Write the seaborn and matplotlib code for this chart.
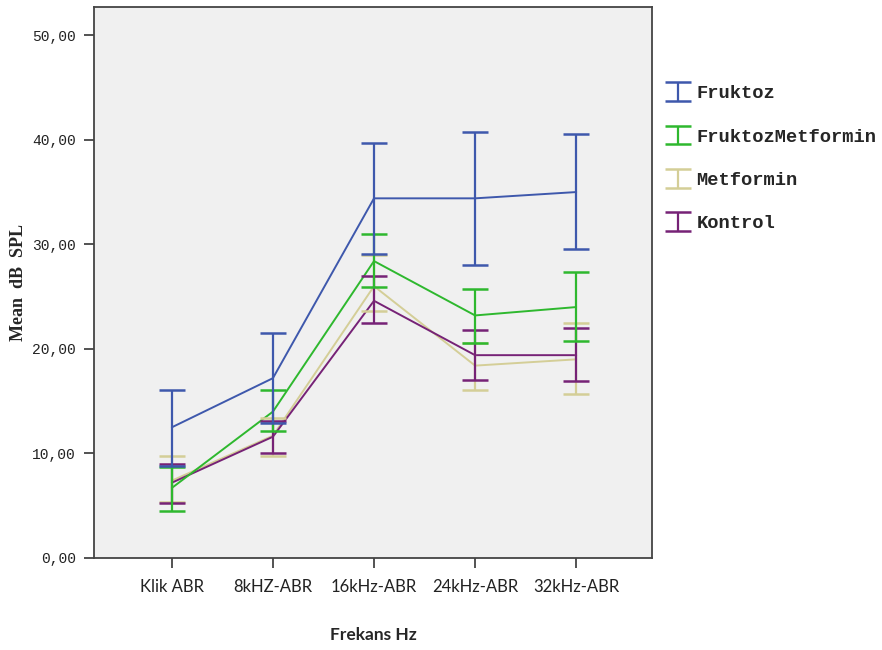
import numpy as np
import pandas as pd
import matplotlib
matplotlib.use('Agg')
import matplotlib.pyplot as plt
import seaborn as sns

frekans = ['Klik ABR', '8kHZ-ABR', '16kHz-ABR', '24kHz-ABR', '32kHz-ABR']
gruplar = ['Fruktoz', 'FruktozMetformin', 'Metformin', 'Kontrol']

# ortalama, ust ve alt hata cubugu sinirlari
fruktoz_mean = [12.5, 17.2, 34.4, 34.4, 35.0]
fruktoz_ust = [16.1, 21.5, 39.7, 40.7, 40.6]
fruktoz_alt = [8.8, 12.9, 29.1, 28.0, 29.6]

fm_mean = [6.7, 14.0, 28.4, 23.2, 24.0]
fm_ust = [8.7, 16.1, 31.0, 25.7, 27.4]
fm_alt = [4.5, 12.1, 25.9, 20.6, 20.8]

met_mean = [7.4, 11.7, 26.0, 18.4, 19.0]
met_ust = [9.8, 13.4, 29.0, 20.6, 22.5]
met_alt = [5.4, 9.8, 23.6, 16.1, 15.7]

kon_mean = [7.2, 11.6, 24.6, 19.4, 19.4]
kon_ust = [9.0, 13.1, 27.0, 21.8, 22.0]
kon_alt = [5.3, 10.0, 22.5, 17.0, 16.9]

renkler = ['#3E58AC', '#2EB82E', '#D4CE97', '#762276']

means = [fruktoz_mean, fm_mean, met_mean, kon_mean]
usts = [fruktoz_ust, fm_ust, met_ust, kon_ust]
alts = [fruktoz_alt, fm_alt, met_alt, kon_alt]

rows = []
for g, m in zip(gruplar, means):
    for f, v in zip(frekans, m):
        rows.append({'Frekans': f, 'Grup': g, 'dB': v})
df = pd.DataFrame(rows)

sns.set_style('white')

fig = plt.figure(figsize=(8.82, 6.5), dpi=100)
ax = fig.add_axes([94/882, 1-558/650, (652-94)/882, (558-7)/650])
ax.set_facecolor('#F0F0F0')

# cizim sirasi: kontrol en altta
for i in [2, 3, 1, 0]:
    g = gruplar[i]
    sub = df[df.Grup == g]
    sns.lineplot(data=sub, x='Frekans', y='dB', color=renkler[i], lw=1.4,
                 legend=False, ax=ax, sort=False)

handles = {}
for i in [2, 3, 1, 0]:
    m = np.array(means[i]); u = np.array(usts[i]); a = np.array(alts[i])
    eb = ax.errorbar(frekans, m, yerr=[m - a, u - m], fmt='none',
                     ecolor=renkler[i], elinewidth=1.6, capsize=9.5,
                     capthick=1.8, label=gruplar[i])
    handles[i] = eb

leg = ax.legend([handles[i] for i in range(4)], gruplar,
                loc='upper left', bbox_to_anchor=(1.009, 0.882), frameon=False,
                prop={'family': 'Liberation Mono', 'weight': 'bold', 'size': 13.5},
                handlelength=0.8, handletextpad=0.6, labelspacing=1.4,
                borderaxespad=0.3)

ax.set_xlim(-0.77, 4.75)
ax.set_ylim(0, 52.7)
ax.set_yticks([0, 10, 20, 30, 40, 50])
ax.set_yticklabels(['0,00', '10,00', '20,00', '30,00', '40,00', '50,00'],
                   family='Liberation Mono', fontsize=10.5, color='#222222')
for lab in ax.get_xticklabels():
    lab.set_family('Lato')
    lab.set_fontsize(12)
    lab.set_color('#222222')
ax.tick_params(axis='both', direction='out', length=7, width=1.3,
               color='#444444', left=True, bottom=True, pad=6)
ax.tick_params(axis='x', pad=8)
for s in ax.spines.values():
    s.set_color('#444444')
    s.set_linewidth(1.3)

ax.set_ylabel('Mean  dB  SPL', family='Liberation Serif', fontweight='bold',
              fontsize=13, labelpad=4)
ax.set_xlabel('Frekans Hz', family='Lato', fontweight='bold', fontsize=12.5,
              labelpad=23)

fig.savefig('out.png', dpi=100)
